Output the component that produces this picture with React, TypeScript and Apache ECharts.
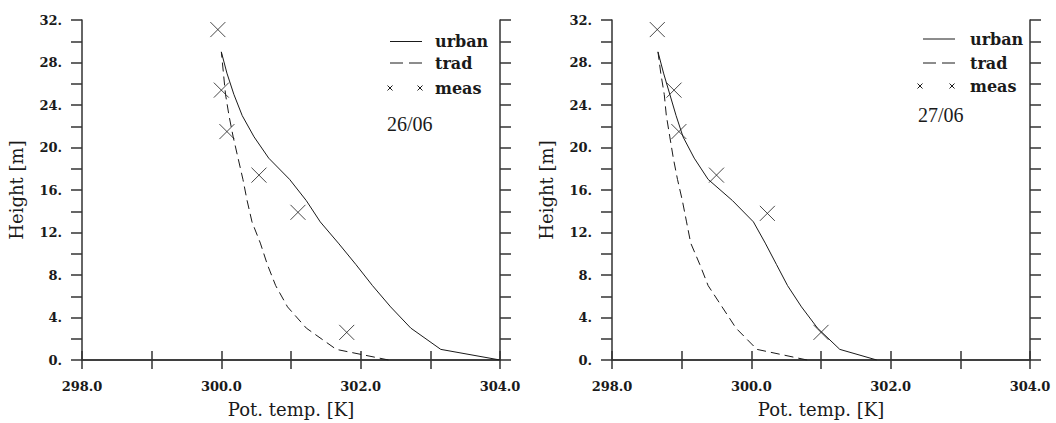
import React, { useEffect, useRef } from "react";
import * as echarts from "echarts";

const HEIGHTS = [0, 1, 3, 5, 7, 9, 11, 13, 15, 17, 19, 21, 23, 25, 27, 29];
const URBAN_2606 = [304.0, 303.15, 302.72, 302.43, 302.17, 301.93, 301.68, 301.42, 301.22, 300.98, 300.68, 300.47, 300.3, 300.18, 300.08, 300.0];
const TRAD_2606 = [302.4, 301.65, 301.22, 300.95, 300.78, 300.66, 300.56, 300.44, 300.37, 300.31, 300.24, 300.17, 300.11, 300.06, 300.03, 300.0];
const MEAS_2606_T = [299.95, 300.0, 300.08, 300.54, 301.1, 301.8];
const MEAS_2606_H = [31.1, 25.4, 21.5, 17.4, 13.9, 2.6];

const URBAN_2706 = [301.8, 301.27, 300.95, 300.72, 300.52, 300.36, 300.2, 300.03, 299.73, 299.38, 299.18, 299.02, 298.92, 298.83, 298.74, 298.66];
const TRAD_2706 = [300.8, 300.08, 299.78, 299.58, 299.38, 299.26, 299.13, 299.07, 299.01, 298.94, 298.88, 298.83, 298.78, 298.75, 298.7, 298.66];
const MEAS_2706_T = [298.65, 298.89, 298.96, 299.5, 300.23, 301.0];
const MEAS_2706_H = [31.1, 25.4, 21.5, 17.4, 13.8, 2.6];

const DATES = ["26/06", "27/06"];
const LEGEND_NAMES = ["urban", "trad", "meas"];
const X_NAME = "Pot. temp. [K]";
const Y_NAME = "Height [m]";

const INK = "#1a1a1a";
const AXIS = "#333";

const pairs = (xs: number[], ys: number[]) => xs.map((x, i) => [x, ys[i]]);

const crossPath = "path://M0,0L10,10M10,0L0,10";

function App() {
  const ref = useRef<HTMLDivElement>(null);
  useEffect(() => {
    if (!ref.current) return;
    const chart = echarts.init(ref.current, undefined, { renderer: "svg" });
    const grids = [
      { left: 82, top: 20, width: 418, height: 340 },
      { left: 612, top: 20, width: 418, height: 340 },
    ];
    const tickFont = { fontFamily: "DejaVu Serif", fontWeight: "bold" as const, fontSize: 13, color: INK };
    const xAxes: any[] = [];
    const yAxes: any[] = [];
    grids.forEach((_, gi) => {
      xAxes.push({
        type: "value", gridIndex: gi, min: 298, max: 304, interval: 1, position: "bottom",
        name: X_NAME, nameLocation: "middle", nameGap: 40,
        nameTextStyle: { fontFamily: "DejaVu Serif", fontSize: 18, color: INK },
        axisLine: { show: true, lineStyle: { color: AXIS, width: 1.5 } },
        axisTick: { show: true, length: 9, lineStyle: { color: AXIS, width: 1.5 } },
        axisLabel: { ...tickFont, margin: 20, formatter: (v: number) => (Math.round(v) % 2 === 0 ? v.toFixed(1) : "") },
        splitLine: { show: false },
      });
      xAxes.push({
        type: "value", gridIndex: gi, min: 298, max: 304, interval: 1, position: "top",
        axisLine: { show: true, lineStyle: { color: AXIS, width: 1.5 } },
        axisTick: { show: true, length: 9, lineStyle: { color: AXIS, width: 1.5 } },
        axisLabel: { show: false },
        splitLine: { show: false },
      });
      yAxes.push({
        type: "value", gridIndex: gi, min: 0, max: 32, interval: 2, position: "left",
        name: Y_NAME, nameLocation: "middle", nameGap: 57, nameRotate: 90,
        nameTextStyle: { fontFamily: "DejaVu Serif", fontSize: 18, color: INK },
        axisLine: { show: true, lineStyle: { color: AXIS, width: 1.5 } },
        axisTick: { show: true, length: 11, lineStyle: { color: AXIS, width: 1.5 } },
        axisLabel: { ...tickFont, margin: 20, formatter: (v: number) => (Math.round(v) % 4 === 0 ? `${v}.` : "") },
        splitLine: { show: false },
      });
      yAxes.push({
        type: "value", gridIndex: gi, min: 0, max: 32, interval: 2, position: "right",
        axisLine: { show: true, lineStyle: { color: AXIS, width: 1.5 } },
        axisTick: { show: true, length: 11, lineStyle: { color: AXIS, width: 1.5 } },
        axisLabel: { show: false },
        splitLine: { show: false },
      });
    });

    const panels = [
      { urban: URBAN_2606, trad: TRAD_2606, mt: MEAS_2606_T, mh: MEAS_2606_H },
      { urban: URBAN_2706, trad: TRAD_2706, mt: MEAS_2706_T, mh: MEAS_2706_H },
    ];
    const series: any[] = [];
    panels.forEach((p, gi) => {
      series.push({
        type: "line", name: LEGEND_NAMES[0], xAxisIndex: gi * 2, yAxisIndex: gi * 2,
        data: pairs(p.urban, HEIGHTS), showSymbol: false, symbol: "none",
        lineStyle: { color: INK, width: 1 },
      });
      series.push({
        type: "line", name: LEGEND_NAMES[1], xAxisIndex: gi * 2, yAxisIndex: gi * 2,
        data: pairs(p.trad, HEIGHTS), showSymbol: false, symbol: "none",
        lineStyle: { color: INK, width: 1, type: [9, 5] },
      });
      series.push({
        type: "scatter", name: LEGEND_NAMES[2], xAxisIndex: gi * 2, yAxisIndex: gi * 2,
        data: pairs(p.mt, p.mh), symbol: crossPath, symbolSize: 15,
        itemStyle: { color: "none", borderColor: INK, borderWidth: 1 },
      });
    });

    const legendLayouts = [
      { lx0: 390, lx1: 422, tx: 435, ys: [41.5, 63, 88], mx: [390, 420], dx: 387, dy: 124 },
      { lx0: 923, lx1: 955, tx: 970, ys: [39, 63, 86], mx: [920, 952], dx: 918, dy: 115 },
    ];
    const graphics: any[] = [];
    const legFont = { fontFamily: "DejaVu Serif", fontWeight: "bold", fontSize: 16, fill: INK };
    legendLayouts.forEach((L, gi) => {
      graphics.push({ type: "line", shape: { x1: L.lx0, y1: L.ys[0], x2: L.lx1, y2: L.ys[0] }, style: { stroke: INK, lineWidth: 1 } });
      graphics.push({ type: "line", shape: { x1: L.lx0, y1: L.ys[1], x2: L.lx1, y2: L.ys[1] }, style: { stroke: INK, lineWidth: 1, lineDash: [13, 6] } });
      L.mx.forEach((cx) => {
        const s = 2.5;
        graphics.push({ type: "line", shape: { x1: cx - s, y1: L.ys[2] - s, x2: cx + s, y2: L.ys[2] + s }, style: { stroke: INK, lineWidth: 1 } });
        graphics.push({ type: "line", shape: { x1: cx - s, y1: L.ys[2] + s, x2: cx + s, y2: L.ys[2] - s }, style: { stroke: INK, lineWidth: 1 } });
      });
      LEGEND_NAMES.forEach((n, i) => {
        graphics.push({ type: "text", x: L.tx, y: L.ys[i], style: { ...legFont, text: n, verticalAlign: "middle", align: "left" } });
      });
      graphics.push({
        type: "text", x: L.dx, y: L.dy,
        style: { text: DATES[gi], fontFamily: "Liberation Serif", fontSize: 20, fill: INK, verticalAlign: "middle", align: "left" },
      });
    });

    chart.setOption({
      animation: false,
      backgroundColor: "#fff",
      grid: grids,
      xAxis: xAxes,
      yAxis: yAxes,
      series,
      graphic: graphics,
    });
    return () => chart.dispose();
  }, []);
  return <div ref={ref} style={{ position: "fixed", left: 0, top: 0, width: 1056, height: 423 }} />;
}

export default App;
